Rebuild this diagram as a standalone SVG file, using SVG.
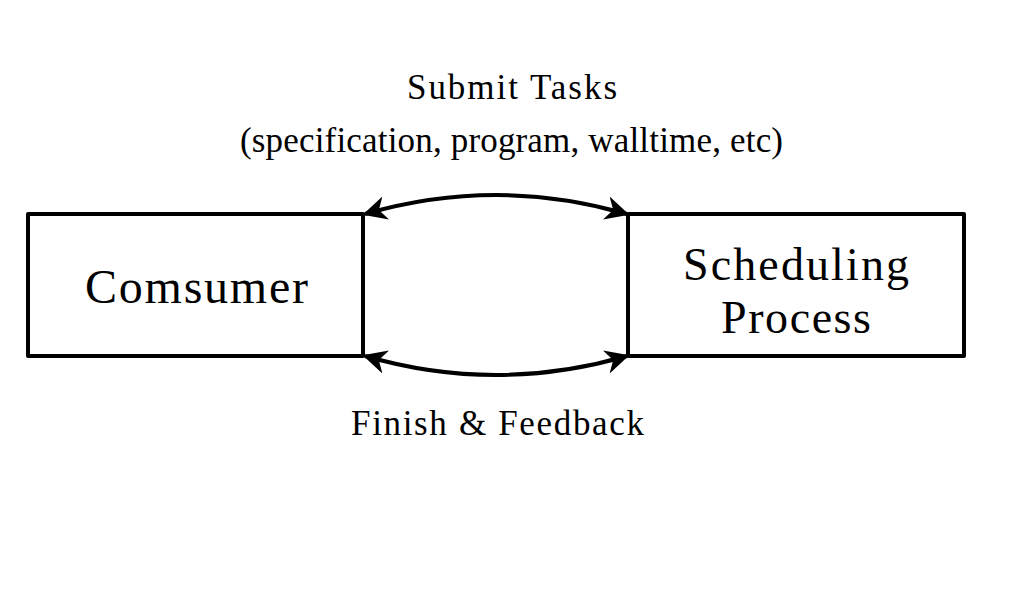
<svg xmlns="http://www.w3.org/2000/svg" width="1024" height="600" viewBox="0 0 1024 600">
<defs>
<style>
.box{fill:#fff;stroke:#000;stroke-width:4;stroke-linejoin:round}
.lbl{font-family:"Liberation Serif",serif;fill:#000;text-anchor:middle}
.big{font-size:48px}
.two{font-size:46px}
.small{font-size:35px}
.edge{fill:none;stroke:#000;stroke-width:4}
</style>
<marker id="ah" viewBox="0 0 10 10" refX="9" refY="5" markerWidth="6" markerHeight="6" orient="auto-start-reverse" markerUnits="strokeWidth">
<path d="M0,0 L10,5 L0,10 L3,5 z" fill="#000"/>
</marker>
</defs>
<rect width="1024" height="600" fill="#fff"/>
<g id="consumer">
<rect class="box" x="28" y="214" width="335" height="142"/>
<text class="lbl big" x="196.5" y="303" textLength="223" lengthAdjust="spacing">Comsumer</text>
</g>
<g id="scheduler">
<rect class="box" x="628" y="214" width="336" height="142"/>
<text class="lbl two" x="796" y="280" textLength="226" lengthAdjust="spacing">Scheduling</text>
<text class="lbl two" x="796" y="333" textLength="150" lengthAdjust="spacing">Process</text>
</g>
<g id="connectors">
<path class="edge" d="M365,214 Q496,176 627,214" marker-start="url(#ah)" marker-end="url(#ah)"/>
<path class="edge" d="M365,356 Q496,394 627,356" marker-start="url(#ah)" marker-end="url(#ah)"/>
</g>
<g id="labels">
<text class="lbl small" x="512" y="99" textLength="210" lengthAdjust="spacing">Submit Tasks</text>
<text class="lbl small" x="511.5" y="152" textLength="543" lengthAdjust="spacing">(specification, program, walltime, etc)</text>
<text class="lbl small" x="497.5" y="435" textLength="293" lengthAdjust="spacing">Finish &amp; Feedback</text>
</g>
</svg>
